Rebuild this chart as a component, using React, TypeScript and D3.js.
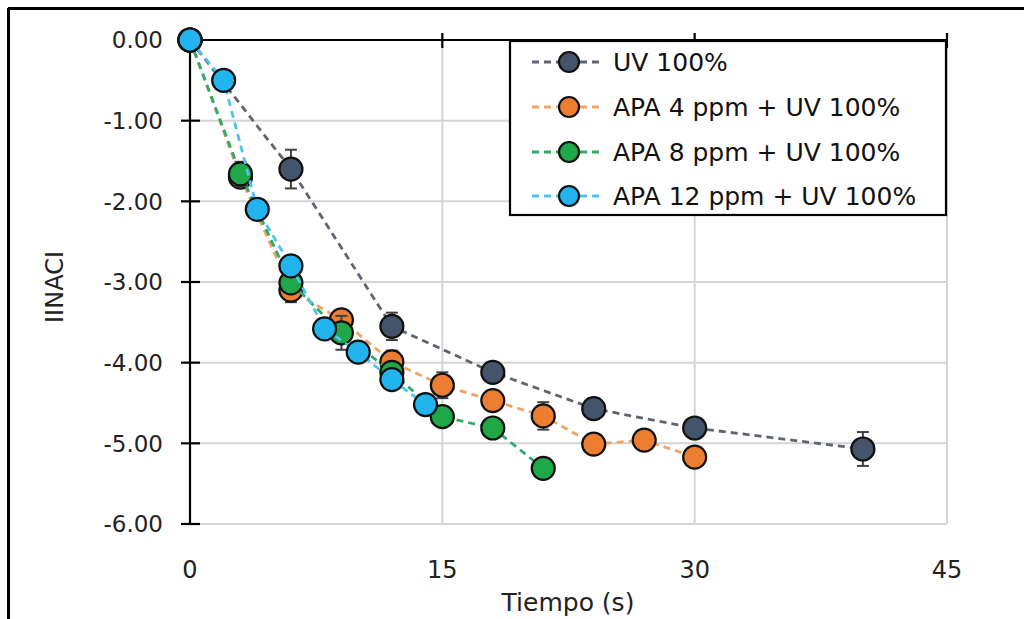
import React from "react";
import * as d3 from "d3";

const xTicks = [0, 15, 30, 45];
const yTicks = [0, -1, -2, -3, -4, -5, -6];

const uvT = [0, 6, 12, 18, 24, 30, 40];
const uvV = [0, -1.6, -3.55, -4.12, -4.57, -4.81, -5.07];
const uvE = [0, 0.24, 0.17, 0.08, 0.13, 0.08, 0.21];

const apa4T = [0, 3, 6, 9, 12, 15, 18, 21, 24, 27, 30];
const apa4V = [0, -1.7, -3.1, -3.47, -3.99, -4.28, -4.47, -4.66, -5.01, -4.96, -5.17];
const apa4E = [0, 0.1, 0.15, 0.1, 0.14, 0.16, 0.1, 0.17, 0.08, 0.08, 0.08];

const apa8T = [0, 3, 6, 9, 12, 15, 18, 21];
const apa8V = [0, -1.66, -3.01, -3.63, -4.12, -4.67, -4.81, -5.31];
const apa8E = [0, 0.15, 0.1, 0.21, 0.1, 0.08, 0.08, 0.08];

const apa12T = [0, 2, 4, 6, 8, 10, 12, 14];
const apa12V = [0, -0.5, -2.1, -2.8, -3.58, -3.87, -4.21, -4.52];
const apa12E = [0, 0.05, 0.05, 0.08, 0.05, 0.05, 0.08, 0.05];

const seriesNames = ["UV 100%", "APA 4 ppm + UV 100%", "APA 8 ppm + UV 100%", "APA 12 ppm + UV 100%"];
const markerColors = ["#44546A", "#ED7D31", "#1FA847", "#22B4EE"];
const lineColors = ["#5f6570", "#F0A468", "#2EAA6A", "#4DC3EE"];

const series = [
  { t: uvT, v: uvV, e: uvE },
  { t: apa4T, v: apa4V, e: apa4E },
  { t: apa8T, v: apa8V, e: apa8E },
  { t: apa12T, v: apa12V, e: apa12E },
].map((s, i) => ({ ...s, name: seriesNames[i], fill: markerColors[i], line: lineColors[i] }));

const FONT = "'DejaVu Sans', 'Noto Sans', sans-serif";

export default function App() {
  const x = d3.scaleLinear().domain([0, 45]).range([190, 947]);
  const y = d3.scaleLinear().domain([0, -6]).range([40, 524]);
  const lineGen = d3
    .line<[number, number]>()
    .x((d) => x(d[0]))
    .y((d) => y(d[1]));

  const legendX = 510;
  const legendY = 41;
  const legendRows = [62, 107, 152, 196];

  return (
    <svg
      width={1024}
      height={619}
      style={{ position: "absolute", left: 0, top: 0, background: "#fff" }}
      fontFamily={FONT}
    >
      <rect x={0} y={0} width={1024} height={619} fill="#fff" />
      {/* outer frame */}
      <line x1={8} y1={8.5} x2={1024} y2={8.5} stroke="#000" strokeWidth={3} />
      <line x1={8.5} y1={8} x2={8.5} y2={619} stroke="#000" strokeWidth={3} />

      {/* gridlines */}
      {yTicks.slice(1).map((t) => (
        <line key={"gy" + t} x1={x(0)} x2={x(45)} y1={y(t)} y2={y(t)} stroke="#d4d4d4" strokeWidth={2} />
      ))}
      {xTicks.slice(1).map((t) => (
        <line key={"gx" + t} x1={x(t)} x2={x(t)} y1={y(0)} y2={y(-6)} stroke="#d4d4d4" strokeWidth={2} />
      ))}

      {/* top axis line with ticks */}
      <line x1={x(0)} x2={x(45)} y1={y(0)} y2={y(0)} stroke="#000" strokeWidth={2.2} />
      {xTicks.slice(1).map((t) => (
        <line key={"tt" + t} x1={x(t)} x2={x(t)} y1={y(0) - 7} y2={y(0) + 8} stroke="#000" strokeWidth={2.2} />
      ))}

      {/* y axis */}
      <line x1={x(0)} x2={x(0)} y1={y(0)} y2={y(-6)} stroke="#000" strokeWidth={2.2} />
      {yTicks.map((t) => (
        <line key={"yt" + t} x1={x(0) - 9} x2={x(0) + 10} y1={y(t)} y2={y(t)} stroke="#000" strokeWidth={2.2} />
      ))}
      {yTicks.map((t) => (
        <text
          key={"yl" + t}
          x={163}
          y={y(t)}
          dy="0.36em"
          textAnchor="end"
          fontSize={23}
          fill="#222"
        >
          {t.toFixed(2)}
        </text>
      ))}
      {xTicks.map((t) => (
        <text key={"xl" + t} x={x(t)} y={578} textAnchor="middle" fontSize={24} fill="#222">
          {t}
        </text>
      ))}
      <text x={568} y={611} textAnchor="middle" fontSize={25} fill="#222">
        Tiempo (s)
      </text>
      <text
        transform={`translate(63, 287) rotate(-90)`}
        textAnchor="middle"
        fontSize={24}
        fill="#222"
      >
        IINACI
      </text>

      {/* series */}
      {series.map((s, si) => {
        const pts = s.t.map((t, i) => [t, s.v[i]] as [number, number]);
        return (
          <g key={"s" + si}>
            <path d={lineGen(pts) || ""} fill="none" stroke={s.line} strokeWidth={2.8} strokeDasharray="7,5" />
            {s.t.map((t, i) =>
              s.e[i] > 0 ? (
                <g key={"e" + i} stroke="#404040" strokeWidth={2}>
                  <line x1={x(t)} x2={x(t)} y1={y(s.v[i] + s.e[i])} y2={y(s.v[i] - s.e[i])} />
                  <line x1={x(t) - 6} x2={x(t) + 6} y1={y(s.v[i] + s.e[i])} y2={y(s.v[i] + s.e[i])} />
                  <line x1={x(t) - 6} x2={x(t) + 6} y1={y(s.v[i] - s.e[i])} y2={y(s.v[i] - s.e[i])} />
                </g>
              ) : null
            )}
            {s.t.map((t, i) => (
              <circle key={"c" + i} cx={x(t)} cy={y(s.v[i])} r={11.5} fill={s.fill} stroke="#111" strokeWidth={2.2} />
            ))}
          </g>
        );
      })}

      {/* legend */}
      <rect x={legendX} y={legendY} width={436} height={174} fill="#fff" stroke="#000" strokeWidth={2.2} />
      {series.map((s, i) => (
        <g key={"lg" + i}>
          <line x1={531} x2={601} y1={legendRows[i]} y2={legendRows[i]} stroke={s.line} strokeWidth={2.8} strokeDasharray="7,5" strokeDashoffset={-1} />
          <circle cx={569} cy={legendRows[i]} r={10} fill={s.fill} stroke="#111" strokeWidth={2.2} />
          <text x={613} y={legendRows[i]} dy="0.36em" fontSize={25} fill="#111">
            {s.name}
          </text>
        </g>
      ))}
    </svg>
  );
}
